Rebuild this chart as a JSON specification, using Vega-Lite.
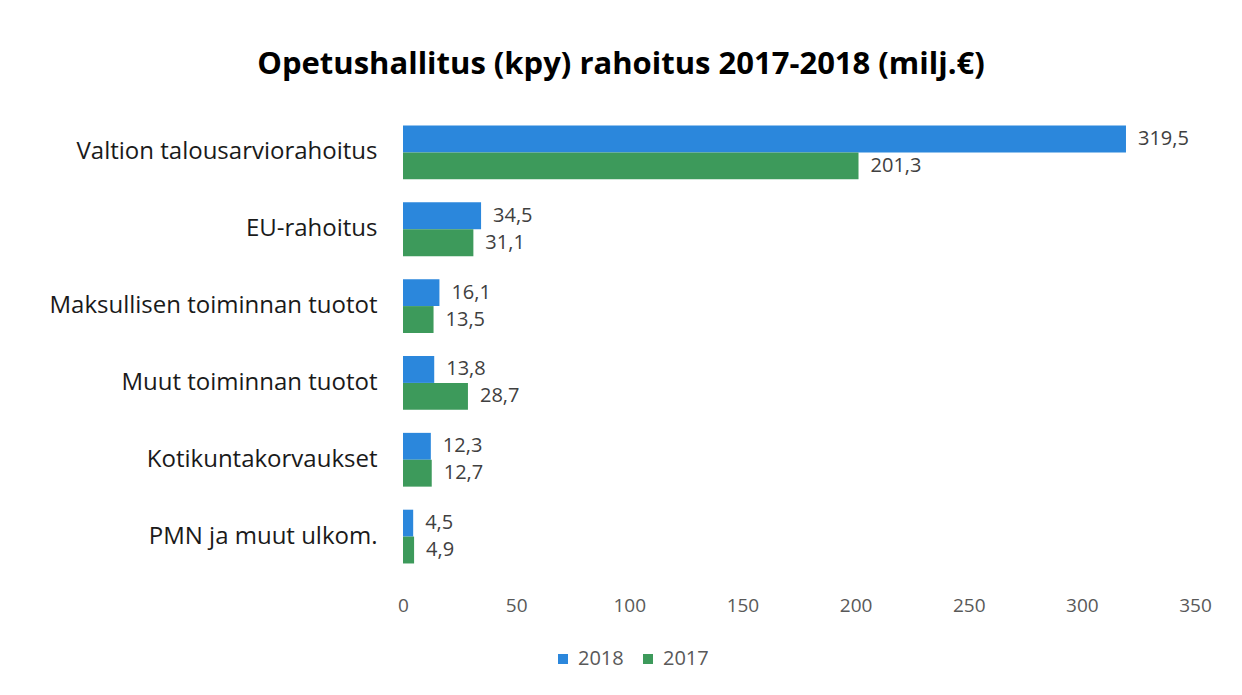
{
  "$schema": "https://vega.github.io/schema/vega-lite/v6.json",
  "autosize": {"type": "none"},
  "width": 792,
  "height": 461,
  "padding": {"left": 403, "top": 114, "right": 47, "bottom": 120},
  "background": "white",
  "config": {
    "view": {"stroke": null},
    "font": "Open Sans",
    "locale": {"number": {"decimal": ",", "thousands": " ", "grouping": [3], "currency": ["", " €"]}}
  },
  "title": {
    "text": "Opetushallitus (kpy) rahoitus 2017-2018 (milj.€)",
    "font": "Open Sans",
    "fontSize": 31,
    "fontWeight": "bold",
    "color": "#000000",
    "anchor": "middle",
    "dx": -178,
    "offset": 33
  },
  "data": {
    "values": [
      {"kategoria": "Valtion talousarviorahoitus", "vuosi": "2018", "arvo": 319.5},
      {"kategoria": "Valtion talousarviorahoitus", "vuosi": "2017", "arvo": 201.3},
      {"kategoria": "EU-rahoitus", "vuosi": "2018", "arvo": 34.5},
      {"kategoria": "EU-rahoitus", "vuosi": "2017", "arvo": 31.1},
      {"kategoria": "Maksullisen toiminnan tuotot", "vuosi": "2018", "arvo": 16.1},
      {"kategoria": "Maksullisen toiminnan tuotot", "vuosi": "2017", "arvo": 13.5},
      {"kategoria": "Muut toiminnan tuotot", "vuosi": "2018", "arvo": 13.8},
      {"kategoria": "Muut toiminnan tuotot", "vuosi": "2017", "arvo": 28.7},
      {"kategoria": "Kotikuntakorvaukset", "vuosi": "2018", "arvo": 12.3},
      {"kategoria": "Kotikuntakorvaukset", "vuosi": "2017", "arvo": 12.7},
      {"kategoria": "PMN ja muut ulkom.", "vuosi": "2018", "arvo": 4.5},
      {"kategoria": "PMN ja muut ulkom.", "vuosi": "2017", "arvo": 4.9}
    ]
  },
  "encoding": {
    "y": {
      "field": "kategoria",
      "type": "nominal",
      "sort": null,
      "title": null,
      "scale": {"paddingInner": 0.3, "paddingOuter": 0.15},
      "axis": {
        "domain": false,
        "ticks": false,
        "labelPadding": 26,
        "labelFontSize": 24,
        "labelColor": "#1a1a1a",
        "labelFont": "Open Sans",
        "labelLimit": 400
      }
    },
    "yOffset": {
      "field": "vuosi",
      "type": "nominal",
      "sort": ["2018", "2017"],
      "scale": {"paddingInner": 0, "paddingOuter": 0}
    },
    "x": {
      "field": "arvo",
      "type": "quantitative",
      "title": null,
      "scale": {"domain": [0, 350], "nice": false},
      "axis": {
        "values": [0, 50, 100, 150, 200, 250, 300, 350],
        "domain": false,
        "ticks": false,
        "grid": false,
        "labelFlush": false,
        "labelPadding": 21,
        "labelFontSize": 19,
        "labelColor": "#595959",
        "labelFont": "Open Sans",
        "format": "d"
      }
    }
  },
  "layer": [
    {
      "mark": {"type": "bar"},
      "encoding": {
        "color": {
          "field": "vuosi",
          "type": "nominal",
          "scale": {"domain": ["2018", "2017"], "range": ["#2b87dc", "#3d9a5b"]},
          "legend": {
            "title": null,
            "orient": "none",
            "direction": "horizontal",
            "legendX": 150,
            "legendY": 535,
            "symbolType": "square",
            "symbolSize": 100,
            "labelFontSize": 20,
            "labelColor": "#595959",
            "labelFont": "Open Sans",
            "columnPadding": 14,
            "labelOffset": 5
          }
        }
      }
    },
    {
      "mark": {"type": "text", "align": "left", "baseline": "middle", "dx": 12, "fontSize": 20, "color": "#404040", "font": "Open Sans"},
      "encoding": {
        "text": {"field": "arvo", "type": "quantitative", "format": ".1f"}
      }
    }
  ]
}
